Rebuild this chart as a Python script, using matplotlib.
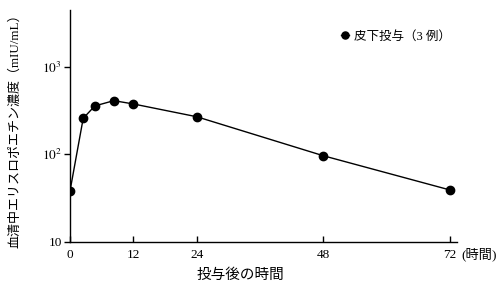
import matplotlib
matplotlib.use("Agg")
import matplotlib.pyplot as plt
from matplotlib.ticker import FixedLocator, FixedFormatter, NullLocator

hours = [0, 2.5, 4.7, 8.3, 12, 24, 48, 72]
conc = [38, 257, 356, 409, 375, 268, 96, 39]
xticks = [0, 12, 24, 48, 72]
yticks = [10, 100, 1000]
ytick_labels = ["10", "$10^{2}$", "$10^{3}$"]
legend_label = "皮下投与（3 例）"
xlabel = "投与後の時間"
ylabel = "血清中エリスロポエチン濃度（mIU/mL）"
xunit = "(時間)"

plt.rcParams['font.family'] = ['Liberation Serif', 'Noto Sans CJK JP']
plt.rcParams['mathtext.fontset'] = 'stix'

fig = plt.figure(figsize=(5, 2.92), dpi=100)
ax = fig.add_axes([0.14, 0.172, 0.774, 0.794])
ax.plot(hours, conc, color='black', lw=1.0, marker='o', ms=6, label=legend_label)
ax.set_yscale('log')
ax.set_xlim(0, 73.3)
ax.set_ylim(10, 4446)
ax.xaxis.set_major_locator(FixedLocator(xticks))
ax.yaxis.set_major_locator(FixedLocator(yticks))
ax.yaxis.set_major_formatter(FixedFormatter(ytick_labels))
ax.yaxis.set_minor_locator(NullLocator())
for s in ['top', 'right']:
    ax.spines[s].set_visible(False)
for s in ['left', 'bottom']:
    ax.spines[s].set_linewidth(1.0)
ax.tick_params(axis='x', direction='in', length=4, width=1, labelsize=9.5, pad=5)
ax.tick_params(axis='y', direction='out', length=4, width=1, labelsize=9.5, pad=2)
ax.set_xlabel(xlabel, fontsize=10.5)
ax.xaxis.set_label_coords(0.44, -0.115)
ax.set_ylabel(ylabel, fontsize=9.4)
ax.yaxis.set_label_coords(-0.125, 0.49)
fig.text(0.922, 0.128, xunit, fontsize=9.5, ha='left', va='center')
leg = ax.legend(loc='upper left', bbox_to_anchor=(0.672, 0.96), frameon=False,
                fontsize=9, handlelength=0.6, handletextpad=0.4, numpoints=1,
                markerscale=0.85)
fig.savefig('out.png', dpi=100)
